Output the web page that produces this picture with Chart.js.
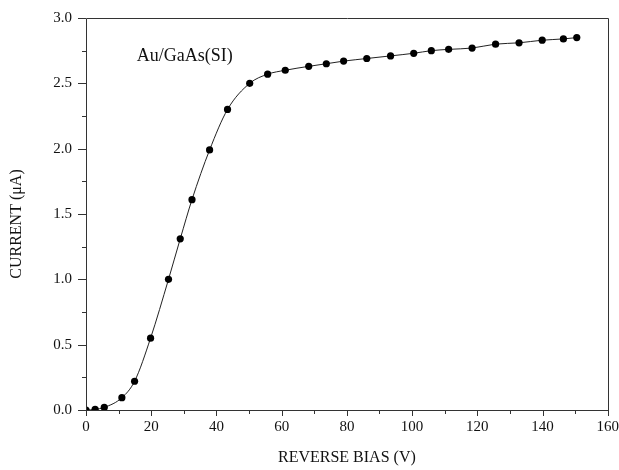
<!DOCTYPE html>
<html>
<head>
<meta charset="utf-8">
<script src="https://cdn.jsdelivr.net/npm/chart.js@4"></script>
<style>
  html, body { margin: 0; padding: 0; background: #fff; }
</style>
</head>
<body>
<canvas id="myChart" width="619" height="470"></canvas>
<script>
// reverse bias (V) and current (uA)
const bias = [0, 2.8, 5.6, 11.0, 14.9, 19.8, 25.3, 28.9, 32.5, 37.9, 43.4, 50.2, 55.7, 61.1,
    68.3, 73.7, 79.0, 86.1, 93.4, 100.5, 105.9, 111.2, 118.4, 125.6, 132.8, 139.9, 146.4, 150.5];
const current = [0, 0.005, 0.02, 0.094, 0.22, 0.55, 1.00, 1.31, 1.61, 1.99, 2.30, 2.50, 2.57, 2.60,
    2.63, 2.65, 2.67, 2.69, 2.71, 2.73, 2.75, 2.76, 2.77, 2.80, 2.81, 2.83, 2.84, 2.85];
const xTicks = [0, 20, 40, 60, 80, 100, 120, 140, 160];
const xMinor = [10, 30, 50, 70, 90, 110, 130, 150];
const yTicks = [0, 0.5, 1.0, 1.5, 2.0, 2.5, 3.0];
const yMinor = [0.25, 0.75, 1.25, 1.75, 2.25, 2.75];
const sampleLabel = 'Au/GaAs(SI)';

const serif = '"Liberation Serif", "DejaVu Serif", serif';
const axisColor = '#333';

const frame = {
    id: 'frame',
    afterDraw(chart) {
        const c = chart.ctx;
        const xs = chart.scales.x;
        const ys = chart.scales.y;
        const a = chart.chartArea;
        c.save();
        c.strokeStyle = axisColor;
        c.lineWidth = 1;
        c.beginPath();
        // box
        c.rect(Math.round(a.left) + 0.5, Math.round(a.top) + 0.5,
            Math.round(a.right - a.left), Math.round(a.bottom - a.top));
        // outward ticks on left and bottom
        xTicks.forEach(v => {
            const p = Math.round(xs.getPixelForValue(v)) + 0.5;
            c.moveTo(p, a.bottom); c.lineTo(p, a.bottom + 6);
        });
        xMinor.forEach(v => {
            const p = Math.round(xs.getPixelForValue(v)) + 0.5;
            c.moveTo(p, a.bottom); c.lineTo(p, a.bottom + 4);
        });
        yTicks.forEach(v => {
            const p = Math.round(ys.getPixelForValue(v)) + 0.5;
            c.moveTo(a.left, p); c.lineTo(a.left - 8, p);
        });
        yMinor.forEach(v => {
            const p = Math.round(ys.getPixelForValue(v)) + 0.5;
            c.moveTo(a.left, p); c.lineTo(a.left - 4, p);
        });
        c.stroke();
        // sample label
        c.fillStyle = '#111';
        c.font = '18px ' + serif;
        c.textBaseline = 'middle';
        c.fillText(sampleLabel, xs.getPixelForValue(15.6), ys.getPixelForValue(2.71));
        c.restore();
    }
};

const ctx = document.getElementById('myChart').getContext('2d');
const myChart = new Chart(ctx, {
    type: 'line',
    data: {
        datasets: [{
            data: bias.map((b, i) => ({ x: b, y: current[i] })),
            borderColor: '#222',
            borderWidth: 1,
            backgroundColor: '#000',
            pointBackgroundColor: '#000',
            pointBorderWidth: 0,
            pointRadius: 3.6,
            fill: false,
            cubicInterpolationMode: 'monotone'
        }]
    },
    options: {
        responsive: false,
        animation: false,
        layout: { padding: { top: 18, right: 11, left: 0, bottom: 0 } },
        plugins: {
            legend: { display: false },
            tooltip: { enabled: false }
        },
        scales: {
            x: {
                type: 'linear',
                min: 0,
                max: 160,
                grid: { display: false },
                border: { display: false },
                ticks: {
                    stepSize: 20,
                    color: '#111',
                    padding: 0,
                    maxRotation: 0,
                    font: { family: serif, size: 15 }
                },
                title: {
                    display: true,
                    text: 'REVERSE BIAS (V)',
                    color: '#111',
                    padding: { top: 6, bottom: 3 },
                    font: { family: serif, size: 16 }
                },
                afterFit(scale) { scale.height = 60; }
            },
            y: {
                min: 0,
                max: 3,
                grid: { display: false },
                border: { display: false },
                ticks: {
                    stepSize: 0.5,
                    color: '#111',
                    padding: 6,
                    font: { family: serif, size: 15 },
                    callback: v => v.toFixed(1)
                },
                title: {
                    display: true,
                    // trailing em space + space nudges the rotated title down a little
                    text: 'CURRENT (\u03bcA)\u2003 ',
                    color: '#111',
                    padding: { top: 7, bottom: 4 },
                    font: { family: serif, size: 16 }
                },
                afterFit(scale) { scale.width = 86; }
            }
        }
    },
    plugins: [frame]
});
</script>
</body>
</html>
